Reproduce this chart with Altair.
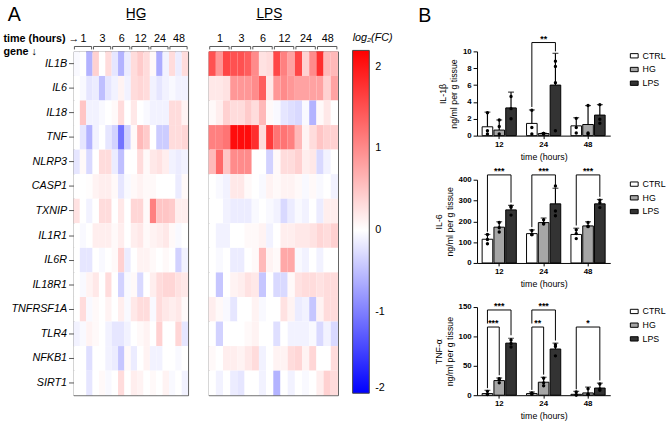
import altair as alt
import pandas as pd

# ---------------- Panel A: log2 fold-change heatmaps ----------------
GENES = ["IL1B", "IL6", "IL18", "TNF", "NLRP3", "CASP1", "TXNIP", "IL1R1",
         "IL6R", "IL18R1", "TNFRSF1A", "TLR4", "NFKB1", "SIRT1"]
TIMES_A = ["1", "3", "6", "12", "24", "48"]   # hours, 3 replicates each

HG_FC = {
    "IL1B":     [-0.05, 0.0, -0.6, 0.4, 0.0, 0.3, -0.2, -0.6, -0.15, 0.3, 0.45, 0.3, 0.05, -0.65, -0.1, 0.3, -0.15, 0.3],
    "IL6":      [0.0, -0.05, -0.2, -0.15, -0.5, -0.2, -0.1, 0.1, -0.1, 0.3, 0.35, 0.3, -0.1, -0.2, -0.1, -0.05, -0.1, -0.1],
    "IL18":     [0.0, 0.5, -0.1, -0.1, -0.05, 0.0, 0.05, 0.3, 0.0, 0.2, 0.0, -0.05, -0.1, -0.1, -0.1, 0.3, 0.3, 0.1],
    "TNF":      [0.0, -0.2, -0.6, -0.1, 0.0, -0.2, -0.35, -1.1, -0.35, 0.05, 0.6, 0.45, 0.0, -0.4, -0.4, 0.3, 0.3, 0.35],
    "NLRP3":    [-0.2, 0.05, -0.3, 0.0, 0.3, 0.3, -0.15, -0.5, 0.0, 0.0, 0.3, 0.05, 0.2, 0.25, 0.15, -0.1, -0.15, -0.1],
    "CASP1":    [0.0, 0.0, 0.02, 0.1, 0.15, 0.15, 0.05, -0.2, -0.05, 0.05, 0.1, 0.05, 0.05, 0.0, 0.0, 0.0, -0.15, 0.05],
    "TXNIP":    [0.25, 0.0, -0.1, 0.0, 0.3, 0.3, 0.0, 0.2, 0.0, 0.35, 0.35, 0.05, 1.1, 0.5, 0.5, 0.45, 0.15, 0.15],
    "IL1R1":    [0.0, -0.05, 0.0, 0.15, 0.15, 0.15, 0.05, 0.15, 0.0, 0.15, 0.2, 0.05, 0.1, 0.15, 0.2, 0.05, -0.05, 0.0],
    "IL6R":     [0.0, -0.2, -0.2, 0.0, -0.05, 0.0, 0.05, 0.4, -0.15, 0.0, 0.1, 0.1, 0.05, 0.0, 0.05, 0.0, -0.35, -0.1],
    "IL18R1":   [0.0, -0.05, 0.1, 0.2, 0.0, 0.3, 0.0, -0.35, -0.05, 0.05, -0.3, 0.0, 0.15, 0.3, 0.35, 0.35, 0.25, 0.2],
    "TNFRSF1A": [0.0, 0.3, -0.05, 0.05, 0.0, 0.1, 0.0, 0.15, -0.05, 0.2, 0.3, 0.3, -0.05, 0.3, 0.2, 0.15, 0.2, 0.05],
    "TLR4":     [-0.1, -0.05, 0.1, 0.05, 0.0, -0.1, -0.2, -0.2, -0.1, 0.0, 0.05, 0.1, 0.0, 0.4, 0.0, 0.0, 0.35, -0.2],
    "NFKB1":    [0.0, 0.0, -0.25, 0.0, 0.0, -0.1, -0.15, -0.45, 0.05, -0.15, 0.0, 0.1, -0.1, -0.1, 0.0, 0.0, -0.05, 0.0],
    "SIRT1":    [0.0, 0.0, -0.2, 0.0, 0.05, -0.05, 0.0, 0.3, 0.0, 0.15, 0.1, 0.0, 0.05, 0.0, 0.1, -0.05, 0.0, -0.1],
}

LPS_FC = {
    "IL1B":     [1.5, 0.9, 1.6, 1.5, 1.5, 1.4, 1.0, 0.25, 0.3, 1.6, 1.1, 0.8, 1.6, 0.4, 1.0, 1.8, 0.6, 0.6],
    "IL6":      [0.2, 0.2, 0.25, 0.9, 0.9, 0.9, 1.0, 1.4, 0.2, 0.9, 1.0, 0.9, 0.8, 0.8, 0.8, 0.8, 0.4, 0.8],
    "IL18":     [0.05, 0.15, 0.4, 0.3, 0.3, 0.45, 0.3, 0.6, 0.05, -0.05, -0.2, -0.25, -0.3, -0.05, -0.6, 0.05, 0.2, 0.0],
    "TNF":      [1.1, 1.1, 1.2, 2.1, 2.1, 2.1, 1.8, 0.3, 1.7, 1.2, 1.2, 1.1, 0.6, 0.1, 0.3, 0.5, 0.4, 0.4],
    "NLRP3":    [0.6, 1.3, 0.5, 1.0, 1.0, 1.0, 0.0, 0.0, -0.35, 0.05, 0.3, 0.3, 0.4, 0.15, 0.2, -0.3, -0.1, 0.0],
    "CASP1":    [0.0, -0.05, -0.1, 0.2, 0.2, 0.05, 0.0, -0.05, 0.1, 0.05, 0.1, 0.1, 0.05, -0.05, 0.05, -0.05, 0.0, -0.1],
    "TXNIP":    [0.0, 0.0, -0.1, -0.15, -0.15, -0.15, -0.05, 0.0, -0.05, -0.1, -0.3, -0.15, -0.05, -0.1, 0.0, -0.15, 0.15, 0.15],
    "IL1R1":    [0.0, -0.1, -0.1, 0.0, 0.0, 0.05, 0.05, 0.1, -0.1, 0.0, 0.15, 0.15, 0.2, 0.2, 0.25, 0.35, 0.3, 0.4],
    "IL6R":     [0.0, -0.05, 0.0, -0.15, -0.15, 0.0, 0.05, 0.6, 0.1, 0.05, 0.75, 0.75, -0.05, -0.1, 0.0, -0.1, 0.0, 0.0],
    "IL18R1":   [0.0, -0.45, 0.0, 0.1, 0.15, 0.25, 0.2, -0.45, 0.0, -0.3, -0.3, 0.05, 0.25, 0.3, 0.3, 0.25, 0.3, 0.3],
    "TNFRSF1A": [0.15, 0.05, -0.05, -0.2, 0.0, 0.0, 0.1, -0.05, 0.0, 0.0, 0.25, 0.1, -0.15, -0.1, -0.45, 0.1, 0.3, 0.3],
    "TLR4":     [0.0, -0.35, 0.0, 0.0, 0.0, 0.05, 0.1, 0.0, 0.0, -0.25, 0.0, -0.1, -0.1, -0.1, -0.05, -0.3, -0.1, -0.3],
    "NFKB1":    [0.05, 0.0, 0.15, 0.15, 0.1, 0.2, 0.3, -0.1, 0.0, 0.1, 0.1, 0.3, 0.35, 0.1, 0.35, 0.0, 0.0, 0.3],
    "SIRT1":    [0.0, -0.1, 0.0, -0.15, -0.2, 0.0, 0.0, -0.1, 0.0, -0.6, 0.0, -0.1, 0.0, -0.05, 0.0, 0.15, 0.4, 0.3],
}

FC_DOMAIN = [-2, 0, 2.2]
FC_COLORS = ["#0000ff", "#ffffff", "#ff0000"]
FC_TICKS = [-2, -1, 0, 1, 2]

# ---------------- Panel B: cytokine levels ----------------
TIMES_B = ["12", "24", "48"]
GROUPS = ["CTRL", "HG", "LPS"]
GROUP_FILL = ["#ffffff", "#a6a6a6", "#333333"]

IL1B_MEAN = {"CTRL": [1.05, 1.45, 1.16], "HG": [0.66, 0.25, 1.32], "LPS": [3.29, 6.0, 2.44]}
IL1B_SD = {"CTRL": [1.74, 1.6, 0.97], "HG": [1.2, 0.05, 2.25], "LPS": [1.87, 3.77, 1.24]}
IL1B_PTS = {
    "CTRL": [[2.71, 0.58, 0.19], [3.02, 0.97, 0.19], [2.05, 0.97, 0.31]],
    "HG":   [[1.86, 1.09, 0.19], [0.27, 0.25, 0.2], [3.57, 0.31, 0.19]],
    "LPS":  [[4.65, 3.2, 2.0], [8.84, 8.22, 6.28, 0.58], [3.68, 1.94, 1.47]],
}

IL6_MEAN = {"CTRL": [114, 141, 137], "HG": [172, 194, 178], "LPS": [255, 284, 284]}
IL6_SD = {"CTRL": [23, 18, 30], "HG": [26, 22, 20], "LPS": [22, 75, 21]}
IL6_PTS = {
    "CTRL": [[137, 113, 92], [156, 136, 136], [159, 141, 117]],
    "HG":   [[195, 169, 149], [208, 191, 187], [195, 175, 175]],
    "LPS":  [[273, 268, 230], [370, 250, 227], [302, 289, 266]],
}

TNF_MEAN = {"CTRL": [2.8, 2.8, 1.5], "HG": [24.9, 22.1, 3.9], "LPS": [88.6, 78.6, 12.2]}
TNF_SD = {"CTRL": [5.5, 2.7, 5.1], "HG": [4.4, 8.4, 9.9], "LPS": [8.3, 10.0, 8.3]}
TNF_PTS = {
    "CTRL": [[6.6, 1.7, 1.1], [3.9, 2.8, 1.7], [5.5, 0.3, 0.6]],
    "HG":   [[28, 26, 21], [29, 21, 16], [11, 1.7, 1.1]],
    "LPS":  [[94, 88, 82], [86, 83, 67], [19, 10.5, 8.3]],
}

# significance brackets: (time, from group, to group, bracket level, left leg end, right leg end, label)
IL1B_SIG = [("24", "CTRL", "LPS", 11.05, 3.4, 10.0, "**")]
IL6_SIG = [("12", "CTRL", "LPS", 423, 150, 290, "***"),
           ("24", "CTRL", "LPS", 423, 172, 372, "***"),
           ("48", "CTRL", "LPS", 423, 180, 318, "***")]
TNF_SIG = [("12", "CTRL", "LPS", 145, 122, 102, "***"),
           ("12", "CTRL", "HG", 116, 12, 34, "***"),
           ("24", "CTRL", "LPS", 145, 122, 93, "***"),
           ("24", "CTRL", "HG", 116, 9, 35, "**"),
           ("48", "CTRL", "LPS", 116, 10, 25, "*")]

FONT = "Liberation Sans"


def fc_table(matrix):
    rows = []
    for g in GENES:
        for c, v in enumerate(matrix[g]):
            rows.append({"gene": g, "c0": c, "c1": c + 1, "fc": v})
    return pd.DataFrame(rows)


def time_brackets():
    spans = pd.DataFrame({"time": TIMES_A,
                          "start": [3 * k + 0.15 for k in range(len(TIMES_A))],
                          "end": [3 * k + 2.85 for k in range(len(TIMES_A))]})
    ends = pd.DataFrame({"pos": list(spans["start"]) + list(spans["end"])})
    return spans, ends


def text_layer(label, size, x, y, align="left"):
    return alt.Chart(pd.DataFrame({"t": [label]})).mark_text(
        fontSize=size, align=align, baseline="middle", color="black").encode(
        text="t:N", x=alt.value(x), y=alt.value(y))


def heat_panel(matrix, title, title_x, width, gene_axis, legend, letter=None):
    data = fc_table(matrix)
    spans, ends = time_brackets()
    x_axis = alt.Axis(orient="top", values=[1.5, 4.5, 7.5, 10.5, 13.5, 16.5],
                      labelExpr="['1','3','6','12','24','48'][floor(datum.value / 3)]",
                      ticks=False, domain=False, grid=False, labelPadding=8,
                      labelFontSize=11, labelAngle=0, labelColor="black", title=None)
    x_scale = alt.Scale(domain=[0, 18], nice=False, zero=False)
    if gene_axis:
        y_axis = alt.Axis(title=["time (hours) \u2192", "gene \u2193"], titleAngle=0,
                          titleAlign="left", titleBaseline="top", titleX=-72, titleY=-19,
                          titleFontWeight="bold", titleFontSize=11, titleLineHeight=13,
                          titleColor="black",
                          labelFontStyle="italic", labelFontSize=11, labelColor="black",
                          tickSize=5, tickColor="#555", domain=False, grid=False, labelPadding=2)
    else:
        y_axis = None
    y = alt.Y("gene:N", sort=GENES, scale=alt.Scale(paddingInner=0, paddingOuter=0), axis=y_axis)
    color = alt.Color("fc:Q", scale=alt.Scale(domain=FC_DOMAIN, range=FC_COLORS, interpolate="rgb"),
                      legend=legend)
    cells = alt.Chart(data).mark_rect().encode(
        x=alt.X("c0:Q", scale=x_scale, axis=x_axis), x2="c1:Q", y=y, color=color)
    spans_rule = alt.Chart(spans).mark_rule(color="#555", strokeWidth=1).encode(
        x=alt.X("start:Q", scale=x_scale, axis=x_axis), x2="end:Q", y=alt.value(-5))
    ends_rule = alt.Chart(ends).mark_rule(color="#555", strokeWidth=1).encode(
        x=alt.X("pos:Q", scale=x_scale, axis=x_axis), y=alt.value(-5), y2=alt.value(-2))
    layers = [cells, spans_rule, ends_rule,
              text_layer(title, 14, title_x, -38, align="center")]
    if letter:
        layers.append(text_layer(letter, 20, -67, -37))
    return alt.layer(*layers).properties(
        width=width, height=351,
        view=alt.ViewBackground(stroke="#555", strokeWidth=1))


def bar_panel(name, means, sds, pts, sig, ymax, ystep, height, letter=None):
    bars = []
    for g in GROUPS:
        for i, t in enumerate(TIMES_B):
            bars.append({"time": t, "group": g, "mean": means[g][i], "upper": means[g][i] + sds[g][i]})
    bars = pd.DataFrame(bars)
    points = []
    for g in GROUPS:
        for i, t in enumerate(TIMES_B):
            for r, v in enumerate(pts[g][i]):
                points.append({"time": t, "group": g, "value": v, "rep": r % 3})
    points = pd.DataFrame(points)
    lines, labels = [], []
    for k, (t, g0, g1, lvl, lo0, lo1, txt) in enumerate(sig):
        for o, (g, yv) in enumerate([(g0, lo0), (g0, lvl), (g1, lvl), (g1, lo1)]):
            lines.append({"id": k, "ord": o, "time": t, "group": g, "y": yv})
        labels.append({"time": t, "group": "HG" if g1 == "LPS" else "CTRL",
                       "y": lvl, "text": txt, "wide": g1 == "LPS"})
    lines = pd.DataFrame(lines)
    labels = pd.DataFrame(labels)

    x_axis = alt.Axis(title="time (hours)", labelAngle=0, labelFontWeight="bold",
                      labelFontSize=8, labelColor="black", titleFontSize=9,
                      titleFontWeight="normal", titleColor="black", tickSize=3,
                      domainColor="black", tickColor="black", labelPadding=2,
                      titlePadding=4)
    x = alt.X("time:N", sort=TIMES_B, scale=alt.Scale(paddingInner=0.23, paddingOuter=0.115),
              axis=x_axis)
    xo = alt.XOffset("group:N", sort=GROUPS, scale=alt.Scale(paddingInner=0.1, paddingOuter=0))
    y_scale = alt.Scale(domain=[0, ymax], nice=False)
    y_axis = alt.Axis(title=[name, "ng/ml per g tissue"], values=list(range(0, ymax + 1, ystep)),
                      labelFontWeight="bold", labelFontSize=8, labelColor="black",
                      titleFontSize=9, titleFontWeight="normal", titleColor="black",
                      tickSize=4, tickColor="black", domainColor="black", grid=False,
                      titlePadding=4, labelPadding=2)

    def yenc(field):
        return alt.Y(field, scale=y_scale, axis=y_axis)

    color = alt.Color("group:N", sort=GROUPS, scale=alt.Scale(domain=GROUPS, range=GROUP_FILL),
                      legend=alt.Legend(title=None, orient="none", legendX=156, legendY=0,
                                        padding=0,
                                        symbolType="M-1,-0.55L1,-0.55L1,0.55L-1,0.55Z",
                                        symbolSize=64, symbolStrokeColor="black",
                                        symbolStrokeWidth=1, labelFontSize=9, labelColor="black",
                                        rowPadding=4))
    bar_layer = alt.Chart(bars).mark_bar(stroke="black", strokeWidth=1).encode(
        x=x, xOffset=xo, y=yenc("mean:Q"), color=color)
    err = alt.Chart(bars).mark_rule(color="black", strokeWidth=1.2).encode(
        x=x, xOffset=xo, y=yenc("mean:Q"), y2="upper:Q")
    cap = alt.Chart(bars).mark_tick(color="black", thickness=1.2, size=6, orient="horizontal").encode(
        x=x, xOffset=xo, y=yenc("upper:Q"))
    layers = [bar_layer, err, cap]
    for r, dx in enumerate([0, -3, 3]):
        layers.append(alt.Chart(points).transform_filter(alt.datum.rep == r).mark_circle(
            color="black", size=12, opacity=1, dx=dx).encode(
            x=x, xOffset=xo, y=yenc("value:Q")))
    layers.append(alt.Chart(lines).mark_line(color="black", strokeWidth=1).encode(
        x=x, xOffset=xo, y=yenc("y:Q"), detail="id:N", order="ord:Q"))
    layers.append(alt.Chart(labels).transform_filter(alt.datum.wide).mark_text(
        fontSize=9, fontWeight="bold", baseline="alphabetic", dy=-1).encode(
        x=x, xOffset=xo, y=yenc("y:Q"), text="text:N"))
    layers.append(alt.Chart(labels).transform_filter(~alt.datum.wide).mark_text(
        fontSize=9, fontWeight="bold", baseline="alphabetic", dy=-1, dx=6).encode(
        x=x, xOffset=xo, y=yenc("y:Q"), text="text:N"))
    if letter:
        layers.append(text_layer(letter, 20, -60, -36))
    return alt.layer(*layers).properties(width=136, height=height)


fc_legend = alt.Legend(title="log\u2082(FC)", titleFontStyle="italic", titleFontWeight="normal",
                       titleFontSize=11, titleColor="black", orient="none", legendX=147, legendY=-20,
                       direction="vertical", gradientLength=350, gradientThickness=17,
                       values=FC_TICKS, labelExpr="'' + datum.value",
                       labelFontSize=11, labelColor="black", labelOffset=6,
                       gradientStrokeColor="#444", gradientStrokeWidth=1, titlePadding=8)

hg = heat_panel(HG_FC, "H\u0332G\u0332", 64, 117, True, None, letter="A")
lps = heat_panel(LPS_FC, "L\u0332P\u0332S\u0332", 62, 132, False, fc_legend)
heat = alt.hconcat(hg, lps, spacing=21, bounds="flush").resolve_scale(color="independent")

b1 = bar_panel("IL-1\u03b2", IL1B_MEAN, IL1B_SD, IL1B_PTS, IL1B_SIG, 10, 2, 86, letter="B")
b2 = bar_panel("IL-6", IL6_MEAN, IL6_SD, IL6_PTS, IL6_SIG, 400, 100, 85)
b3 = bar_panel("TNF-\u03b1", TNF_MEAN, TNF_SD, TNF_PTS, TNF_SIG, 150, 50, 90)
bars = alt.vconcat(b1, b2, b3, spacing=45, bounds="flush").resolve_scale(color="independent", y="independent")

chart = alt.hconcat(heat, bars, spacing=25).properties(
    padding={"left": 2, "top": 0, "right": 4, "bottom": 2}
).configure(font=FONT).configure_view(stroke=None)

chart.save("out.html", embed_options={"renderer": "svg", "actions": False})
